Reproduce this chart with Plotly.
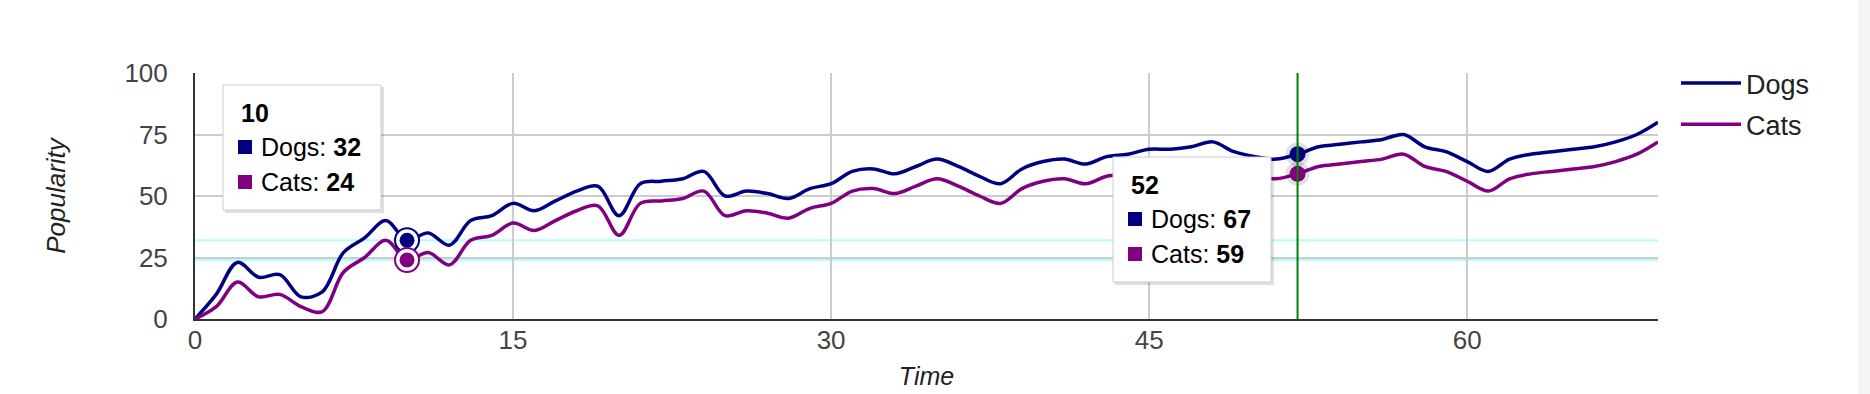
import plotly.graph_objects as go

# ---- data ----
time = list(range(70))
dogs = [0, 10, 23, 17, 18, 9, 11, 27, 33, 40, 32, 35, 30, 40, 42, 47, 44, 48, 52, 54,
        42, 55, 56, 57, 60, 50, 52, 51, 49, 53, 55, 60, 61, 59, 62, 65, 62, 58, 55, 61,
        64, 65, 63, 66, 67, 69, 69, 70, 72, 68, 66, 65, 67, 70, 71, 72, 73, 75, 70, 68,
        64, 60, 65, 67, 68, 69, 70, 72, 75, 80]
cats = [0, 5, 15, 9, 10, 5, 3, 19, 25, 32, 24, 27, 22, 32, 34, 39, 36, 40, 44, 46,
        34, 47, 48, 49, 52, 42, 44, 43, 41, 45, 47, 52, 53, 51, 54, 57, 54, 50, 47, 53,
        56, 57, 55, 58, 59, 61, 61, 62, 64, 60, 58, 57, 59, 62, 63, 64, 65, 67, 62, 60,
        56, 52, 57, 59, 60, 61, 62, 64, 67, 72]
series_names = ["Dogs", "Cats"]
x_ticks = [0, 15, 30, 45, 60]
y_ticks = [0, 25, 50, 75, 100]
selected_idx = 10   # clicked point (crosshair horizontal lines)
focused_idx = 52    # hovered point (crosshair vertical line)

# ---- style ----
DOG_C = "#000080"
CAT_C = "#800080"
FONT = "Liberation Sans, Arial, sans-serif"
W, H = 1870, 394
L, R, T, B = 195, 1658, 73, 319


def px(x):
    return (x - L) / (R - L)


def py(y):
    return (B - y) / (B - T)


fig = go.Figure()
for name, vals, col in [(series_names[0], dogs, DOG_C), (series_names[1], cats, CAT_C)]:
    fig.add_trace(go.Scatter(x=time, y=vals, mode="lines", name=name,
                             legendgroup=name,
                             line=dict(color=col, width=3.5, shape="spline", smoothing=1.0)))

# crosshair lines
for v in (dogs[selected_idx], cats[selected_idx]):
    fig.add_shape(type="line", xref="paper", yref="y", x0=0, x1=1, y0=v, y1=v,
                  line=dict(color="#b0ffff", width=2), layer="below")
fig.add_shape(type="line", xref="x", yref="paper", x0=time[focused_idx], x1=time[focused_idx],
              y0=0, y1=1, line=dict(color="#008000", width=2), layer="above")

# selected point rings
for vals, col in [(dogs, DOG_C), (cats, CAT_C)]:
    fig.add_trace(go.Scatter(x=[time[selected_idx]], y=[vals[selected_idx]], mode="markers",
                             showlegend=False, hoverinfo="skip",
                             marker=dict(size=24, color="white", line=dict(color=col, width=2))))
    fig.add_trace(go.Scatter(x=[time[selected_idx]], y=[vals[selected_idx]], mode="markers",
                             showlegend=False, hoverinfo="skip",
                             marker=dict(size=15, color=col)))
# focused points
for vals, col in [(dogs, DOG_C), (cats, CAT_C)]:
    fig.add_trace(go.Scatter(x=[time[focused_idx]], y=[vals[focused_idx]], mode="markers",
                             showlegend=False, hoverinfo="skip",
                             marker=dict(size=24, color="rgba(0,0,0,0.12)")))
    fig.add_trace(go.Scatter(x=[time[focused_idx]], y=[vals[focused_idx]], mode="markers",
                             showlegend=False, hoverinfo="skip",
                             marker=dict(size=16, color=col)))


def tooltip(box, idx):
    x0, y0, x1, y1 = box
    fig.add_shape(type="rect", xref="paper", yref="paper",
                  x0=px(x0 + 2), x1=px(x1 + 3), y0=py(y0 + 2), y1=py(y1 + 3),
                  fillcolor="rgba(0,0,0,0.12)", line=dict(width=0), layer="above")
    fig.add_shape(type="rect", xref="paper", yref="paper",
                  x0=px(x0), x1=px(x1), y0=py(y0), y1=py(y1),
                  fillcolor="white", line=dict(color="#cccccc", width=1), layer="above")
    fig.add_annotation(xref="paper", yref="paper", x=px(x0 + 16), y=py(y0 + 28),
                       xanchor="left", yanchor="middle", showarrow=False,
                       text="<b>%d</b>" % time[idx], font=dict(family=FONT, size=25, color="#000"))
    for k, (name, vals, col) in enumerate([(series_names[0], dogs, DOG_C),
                                           (series_names[1], cats, CAT_C)]):
        cy = y0 + 62 + 35 * k
        fig.add_shape(type="rect", xref="paper", yref="paper",
                      x0=px(x0 + 15), x1=px(x0 + 29), y0=py(cy - 7), y1=py(cy + 7),
                      fillcolor=col, line=dict(width=0), layer="above")
        fig.add_annotation(xref="paper", yref="paper", x=px(x0 + 36), y=py(cy),
                           xanchor="left", yanchor="middle", showarrow=False,
                           text="%s: <b>%d</b>" % (name, vals[idx]),
                           font=dict(family=FONT, size=25, color="#000"))


tooltip((223, 85, 381, 210), selected_idx)
tooltip((1113, 157, 1271, 282), focused_idx)

# right-hand grey strip of the page
fig.add_shape(type="rect", xref="paper", yref="paper", x0=px(1858), x1=px(1875),
              y0=py(-5), y1=py(400), fillcolor="#f3f4f6", line=dict(width=0), layer="above")

fig.update_layout(
    width=W, height=H,
    margin=dict(l=L, r=W - R, t=T, b=H - B, autoexpand=False),
    paper_bgcolor="white", plot_bgcolor="white",
    font=dict(family=FONT, size=26, color="#444"),
    showlegend=True,
    legend=dict(x=px(1676), y=py(59), xanchor="left", yanchor="top",
                font=dict(family=FONT, size=27, color="#222"),
                traceorder="grouped", tracegroupgap=3, itemwidth=60,
                bgcolor="rgba(0,0,0,0)"),
    xaxis=dict(range=[0, 69], tickvals=x_ticks, showgrid=True, gridcolor="#cccccc",
               gridwidth=2, showline=True, linecolor="#333333", linewidth=2,
               zeroline=False, ticks="", ticklabelstandoff=-3, automargin=False,
               tickfont=dict(size=26, color="#444"),
               title=dict(text="<i>Time</i>", font=dict(size=25, color="#222"), standoff=13)),
    yaxis=dict(range=[0, 100], tickvals=y_ticks, showgrid=True, gridcolor="#cccccc",
               gridwidth=2, showline=True, linecolor="#333333", linewidth=2,
               zeroline=False, ticks="", ticklabelstandoff=20, automargin=False,
               tickfont=dict(size=26, color="#444"),
               title=dict(text="<i>Popularity</i>", font=dict(size=26, color="#222"), standoff=51)),
)

fig.write_html("out.html", config={"displayModeBar": False},
               post_script="document.body.style.margin='0';")
